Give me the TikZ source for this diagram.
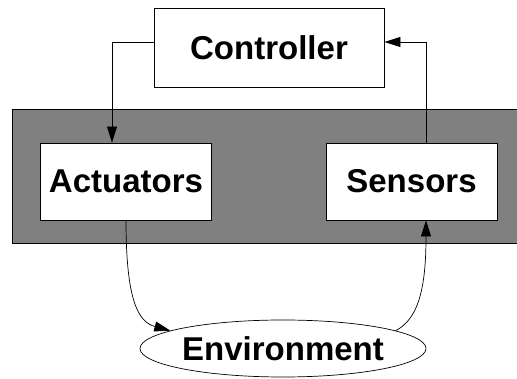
\documentclass[tikz,border=0pt]{standalone}
\usepackage{fontspec}
\setmainfont{Liberation Sans}
\usetikzlibrary{arrows.meta,shapes.geometric}
\begin{document}
\begin{tikzpicture}[x=1pt,y=-1pt,
  lbl/.style={font=\fontsize{33}{36}\selectfont\bfseries},
  block/.style={draw, fill=white, line width=0.8pt, inner sep=0pt, lbl},
  link/.style={draw, line width=0.7pt, -{Triangle[length=16pt,width=10pt]}}]
  \useasboundingbox (0,0) rectangle (517,379);
  % shaded system band
  \path[draw, fill=gray, line width=0.8pt] (12,109) rectangle (520,243);
  % components
  \node[block, minimum width=230pt, minimum height=79pt] (ctrl) at (269,47.5) {Controller};
  \node[block, minimum width=171pt, minimum height=77pt] (act) at (126,181.5) {Actuators};
  \node[block, minimum width=171pt, minimum height=77pt] (sen) at (411.5,181.5) {Sensors};
  \node[draw, ellipse, line width=0.7pt, inner sep=0pt, minimum width=286pt, minimum height=57pt, lbl] (env) at (283,348.5) {Environment};
  % control loop
  \coordinate (c1) at (112,42);
  \coordinate (c2) at (426,42);
  \draw[link] (ctrl.west |- c1) -- (c1) -- (c1 |- act.north);
  \draw[link] (sen.north -| c2) -- (c2) -- (ctrl.east |- c2);
  \draw[link] (act.south) .. controls (126,300) and (138,322) .. (env.171);
  \draw[link] (env.9) .. controls (421,318) and (426,280) .. (sen.south -| c2);
\end{tikzpicture}
\end{document}
